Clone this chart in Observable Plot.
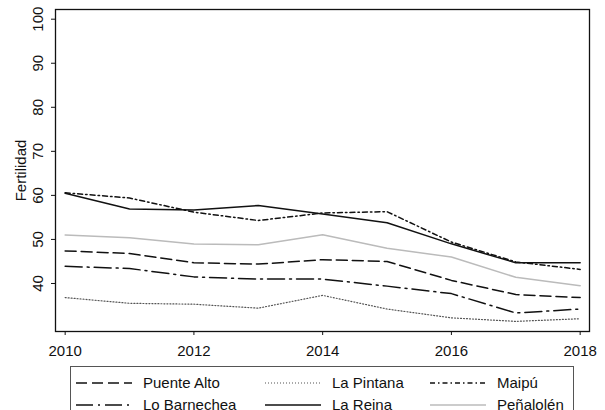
<!DOCTYPE html>
<html>
<head>
<meta charset="utf-8">
<script src="https://cdn.jsdelivr.net/npm/d3@7"></script>
<script src="https://cdn.jsdelivr.net/npm/@observablehq/plot@0.6"></script>
<style>
  html, body { margin: 0; padding: 0; background: #fff; }
  #wrap { position: relative; width: 605px; height: 410px; overflow: hidden; font-family: "Liberation Sans", Arial, sans-serif; }
  #legend { position: absolute; left: 70px; top: 366px; width: 504px; height: 60px; border: 1px solid #555; box-sizing: border-box;
            display: grid; grid-template-columns: 189px 165px 1fr; grid-auto-rows: 22px; padding: 5px 0 0 5px; font-size: 15px; line-height: 22px; }
  .item { display: flex; align-items: center; white-space: nowrap; color: #111; }
  .item svg { margin-right: 11px; flex: none; }
</style>
</head>
<body>
<div id="wrap"><div id="chart"></div><div id="legend"></div></div>
<script>
const years = [2010, 2011, 2012, 2013, 2014, 2015, 2016, 2017, 2018];
const puenteAlto  = [47.4, 46.8, 44.7, 44.4, 45.4, 45.0, 40.7, 37.5, 36.8];
const laPintana   = [36.8, 35.5, 35.3, 34.4, 37.3, 34.2, 32.2, 31.4, 32.0];
const maipu       = [60.6, 59.4, 56.2, 54.3, 56.0, 56.3, 49.4, 44.9, 43.2];
const loBarnechea = [43.9, 43.4, 41.5, 41.0, 41.0, 39.4, 37.7, 33.3, 34.2];
const laReina     = [60.5, 56.9, 56.7, 57.7, 55.8, 53.8, 49.0, 44.7, 44.7];
const penalolen   = [51.0, 50.4, 48.95, 48.8, 51.05, 48.0, 46.0, 41.4, 39.5];
const xTicks = [2010, 2012, 2014, 2016, 2018];
const yTicks = [40, 50, 60, 70, 80, 90, 100];

const series = [
  {name: "Puente Alto", values: puenteAlto, stroke: "#111", dash: "11,5", width: 1.5},
  {name: "La Pintana", values: laPintana, stroke: "#555", dash: "1,2", width: 1.2},
  {name: "Maipú", values: maipu, stroke: "#111", dash: "5,3,1.5,3", width: 1.5},
  {name: "Lo Barnechea", values: loBarnechea, stroke: "#111", dash: "17,5,2,5", width: 1.5},
  {name: "La Reina", values: laReina, stroke: "#111", dash: null, width: 1.5},
  {name: "Peñalolén", values: penalolen, stroke: "#bbbbbb", dash: null, width: 1.5}
];

const marks = [];
for (const s of series) {
  const data = years.map((y, i) => ({year: y, value: s.values[i]}));
  marks.push(Plot.line(data, {x: "year", y: "value", stroke: s.stroke, strokeWidth: s.width,
    strokeDasharray: s.dash == null ? undefined : s.dash, strokeLinejoin: "round"}));
}

const plot = Plot.plot({
  width: 605,
  height: 362,
  marginLeft: 55,
  marginRight: 16,
  marginTop: 9,
  marginBottom: 31,
  style: {fontFamily: "'Liberation Sans', Arial, sans-serif", fontSize: "15px", color: "#111", background: "#fff"},
  x: {domain: [2009.85, 2018.145]},
  y: {domain: [29.1, 102.2]},
  marks: [
    Plot.axisX({ticks: xTicks, tickFormat: d => String(d), tickSize: 4, tickPadding: 10, label: null, fontSize: 15}),
    Plot.axisY({ticks: yTicks, tickSize: 4, tickRotate: -90, tickPadding: 9, label: "Fertilidad", labelAnchor: "center",
      labelArrow: "none", labelOffset: 40, fontSize: 15}),
    ...marks,
    Plot.frame({stroke: "#111", strokeWidth: 1.3})
  ]
});
document.getElementById("chart").appendChild(plot);

const legend = document.getElementById("legend");
for (const s of series) {
  const item = document.createElement("div");
  item.className = "item";
  item.innerHTML = `<svg width="56" height="10"><line x1="0" x2="56" y1="5" y2="5" stroke="${s.stroke}" stroke-width="${s.width}" ${s.dash ? `stroke-dasharray="${s.dash}"` : ""}/></svg><span>${s.name}</span>`;
  legend.appendChild(item);
}
</script>
</body>
</html>
